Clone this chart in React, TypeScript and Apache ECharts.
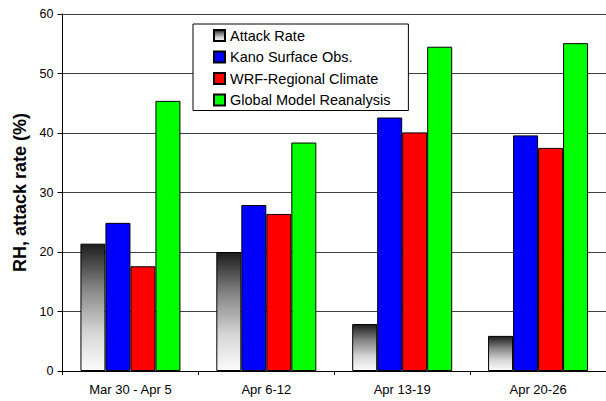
import React, { useEffect, useRef } from "react";
import * as echarts from "echarts";

const weeks = ["Mar 30 - Apr 5", "Apr 6-12", "Apr 13-19", "Apr 20-26"];
const attackRate = [21.4, 20.0, 7.9, 5.9];
const kanoSurface = [24.9, 27.9, 42.6, 39.6];
const wrfRegional = [17.6, 26.4, 40.1, 37.5];
const globalReanalysis = [45.4, 38.4, 54.5, 55.1];
const yTicks = [0, 10, 20, 30, 40, 50, 60];

const FONT = "'Liberation Sans', Arial, sans-serif";

export default function App() {
  const ref = useRef<HTMLDivElement>(null);

  useEffect(() => {
    if (!ref.current) return;
    const chart = echarts.init(ref.current, undefined, { renderer: "svg" });

    const grayFade = new echarts.graphic.LinearGradient(0, 0, 0, 1, [
      { offset: 0, color: "#1c1c1c" },
      { offset: 0.35, color: "#858585" },
      { offset: 0.7, color: "#d6d6d6" },
      { offset: 1, color: "#fbfbfb" },
    ]);

    const bar = (name: string, data: number[], color: any) => ({
      name,
      type: "bar",
      data,
      barWidth: 25,
      barGap: "0%",
      itemStyle: { color, borderColor: "#000", borderWidth: 1 },
    });

    chart.setOption({
      animation: false,
      backgroundColor: "#fff",
      textStyle: { fontFamily: FONT },
      grid: { left: 62.5, top: 14, width: 546.5, height: 357, containLabel: false },
      legend: {
        orient: "vertical",
        left: 193,
        top: 24,
        padding: [4, 18, 3, 20],
        itemWidth: 11,
        itemHeight: 11,
        itemGap: 6.5,
        icon: "rect",
        backgroundColor: "#fff",
        borderColor: "#000",
        borderWidth: 1,
        borderRadius: 0,
        textStyle: { fontFamily: FONT, fontSize: 14.5, color: "#000", lineHeight: 14 },
        data: ["Attack Rate", "Kano Surface Obs.", "WRF-Regional Climate", "Global Model Reanalysis"],
      },
      xAxis: {
        type: "category",
        data: weeks,
        boundaryGap: true,
        axisLine: { lineStyle: { color: "#000", width: 1 } },
        axisTick: { show: true, length: 4, inside: false, lineStyle: { color: "#000" } },
        axisLabel: { color: "#000", fontSize: 13, fontFamily: FONT, margin: 12 },
        splitLine: { show: false },
      },
      yAxis: {
        type: "value",
        min: yTicks[0],
        max: yTicks[yTicks.length - 1],
        interval: 10,
        name: "RH, attack rate (%)",
        nameLocation: "middle",
        nameGap: 32,
        nameTextStyle: { fontFamily: FONT, fontSize: 18, fontWeight: "bold", color: "#000" },
        axisLine: { show: true, lineStyle: { color: "#000", width: 1 } },
        axisTick: { show: true, length: 5, lineStyle: { color: "#000" } },
        axisLabel: { color: "#000", fontSize: 12.5, fontFamily: FONT, margin: 9 },
        splitLine: { show: true, lineStyle: { color: "#404040", width: 1 } },
      },
      series: [
        bar("Attack Rate", attackRate, grayFade),
        bar("Kano Surface Obs.", kanoSurface, "#0000ff"),
        bar("WRF-Regional Climate", wrfRegional, "#ff0000"),
        bar("Global Model Reanalysis", globalReanalysis, "#00ff00"),
      ],
    });

    return () => chart.dispose();
  }, []);

  return (
    <div
      ref={ref}
      style={{ position: "absolute", left: 0, top: 0, width: 606, height: 401, overflow: "hidden" }}
    />
  );
}
